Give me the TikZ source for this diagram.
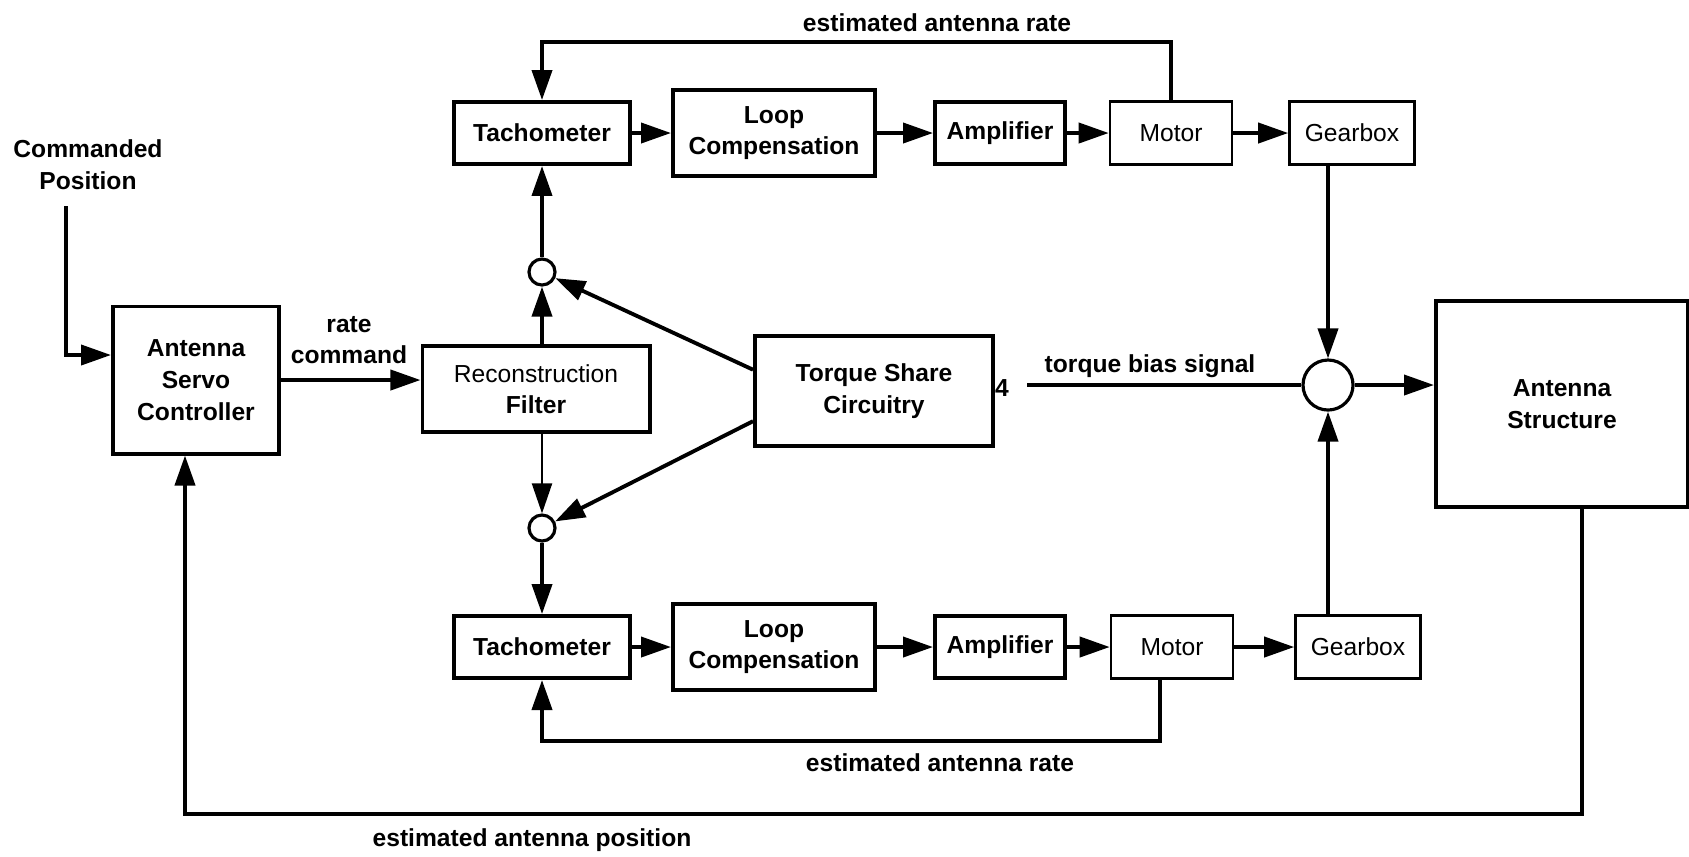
\documentclass[tikz,border=0pt]{standalone}
\usepackage{fontspec}
\setmainfont{Liberation Sans}
\usetikzlibrary{arrows.meta, shapes.geometric, calc}
\newcommand{\dgmsize}{\fontsize{7}{9}\selectfont}
\tikzset{
    blk/.style={draw, line width=1.1pt, align=center, font=\dgmsize\bfseries, inner sep=1pt},
    blklt/.style={blk, line width=0.7pt, font=\dgmsize\mdseries},
    tachbox/.style={blk, minimum width=1.76cm, minimum height=0.62cm},
    loopbox/.style={blk, minimum width=2.02cm, minimum height=0.86cm},
    ampbox/.style={blk, minimum width=1.30cm, minimum height=0.62cm},
    motorbox/.style={blklt, minimum width=1.22cm, minimum height=0.63cm},
    gearbox/.style={blklt, minimum width=1.25cm, minimum height=0.63cm},
    sumpt/.style={draw, circle, line width=0.9pt, inner sep=0pt, minimum size=0.26cm},
    sig/.style={-{Triangle[length=3mm, width=2mm]}, line width=1.1pt},
    wire/.style={line width=1.1pt},
    lbl/.style={font=\dgmsize\bfseries, align=center, inner sep=1pt},
}

\begin{document}
\begin{tikzpicture}[x=0.01cm, y=-0.01cm]
        \useasboundingbox (0,0) rectangle (1689,856);
        % Mando y filtro
        \node[lbl] (cmd) at (88,165) {Commanded\\ Position};
        \node[blk, minimum width=1.66cm, minimum height=1.47cm] (servo) at (196,380) {Antenna\\ Servo\\ Controller};
        \node[lbl] (ratecmd) at (349,340) {rate\\ command};
        \node[blk, minimum width=2.27cm, minimum height=0.86cm] (recon) at (536,389) {{\mdseries Reconstruction}\\ Filter};
        \node[blk, minimum width=2.38cm, minimum height=1.10cm] (torque) at (874,391) {Torque Share\\ Circuitry};
        \node[lbl] (four) at (1002,388) {4};
        % Sumadores
        \node[sumpt] (sumT) at (542,272) {};
        \node[sumpt] (sumB) at (542,528) {};
        \node[sumpt, minimum size=0.5cm] (sumA) at (1328,385) {};
        \node[blk, minimum width=2.52cm, minimum height=2.06cm] (ant) at (1562,404) {Antenna\\ Structure};
        % Lazo superior
        \node[tachbox]  (tachT)  at (542,133)  {Tachometer};
        \node[loopbox]  (loopT)  at (774,133)  {Loop\\ Compensation};
        \node[ampbox]   (ampT)   at (1000,133) {Amplifier};
        \node[motorbox] (motorT) at (1171,133) {Motor};
        \node[gearbox]  (gearT)  at (1352,133) {Gearbox};
        % Lazo inferior
        \node[tachbox]  (tachB)  at (542,647)  {Tachometer};
        \node[loopbox]  (loopB)  at (774,647)  {Loop\\ Compensation};
        \node[ampbox]   (ampB)   at (1000,647) {Amplifier};
        \node[motorbox] (motorB) at (1172,647) {Motor};
        \node[gearbox]  (gearB)  at (1358,647) {Gearbox};
        % Puntos de paso
        \coordinate (cmdTop) at (66,206);
        \coordinate (rateT) at (542,42);
        \coordinate (rateB) at (542,741);
        \coordinate (posB) at (185,814);
        \coordinate (biasL) at (1027,385);
        % Etiquetas
        \node[lbl] (rateTlbl) at (937,23)  {estimated antenna rate};
        \node[lbl] (rateBlbl) at (940,763) {estimated antenna rate};
        \node[lbl] (poslbl)   at (532,840) {estimated antenna position};
        \node[lbl] (biaslbl)  at (1150,366) {torque bias signal};
        % Mando -> controlador -> filtro
        \draw[sig] (cmdTop) |- ([yshift=0.25cm]servo.west);
        \draw[sig] (servo.east) -- (servo.east -| recon.west);
        \draw[sig] (recon.north -| sumT) -- (sumT);
        \draw[sig, line width=0.6pt] (recon.south -| sumB) -- (sumB);
        \draw[sig] (torque.170) -- (sumT);
        \draw[sig] (torque.194) -- (sumB);
        \draw[sig] (sumT) -- (tachT);
        \draw[sig] (sumB) -- (tachB);
        % Cadena superior
        \draw[sig] (tachT) -- (loopT);
        \draw[sig] (loopT) -- (ampT);
        \draw[sig] (ampT) -- (motorT);
        \draw[sig] (motorT) -- (gearT);
        \draw[sig] (motorT.north) |- (rateT) -- (tachT.north);
        % Cadena inferior
        \draw[sig] (tachB) -- (loopB);
        \draw[sig] (loopB) -- (ampB);
        \draw[sig] (ampB) -- (motorB);
        \draw[sig] (motorB) -- (gearB);
        \draw[sig] ([xshift=-0.12cm]motorB.south) |- (rateB) -- (tachB.south);
        % Suma de pares -> estructura
        \draw[sig] (gearT.south -| sumA) -- (sumA);
        \draw[sig] (gearB.north -| sumA) -- (sumA);
        \draw[wire] (biasL) -- (sumA);
        \draw[sig] (sumA) -- (sumA -| ant.west);
        \draw[sig] ([xshift=0.2cm]ant.south) |- (posB) -- (servo.south -| posB);
    \end{tikzpicture}
\end{document}
